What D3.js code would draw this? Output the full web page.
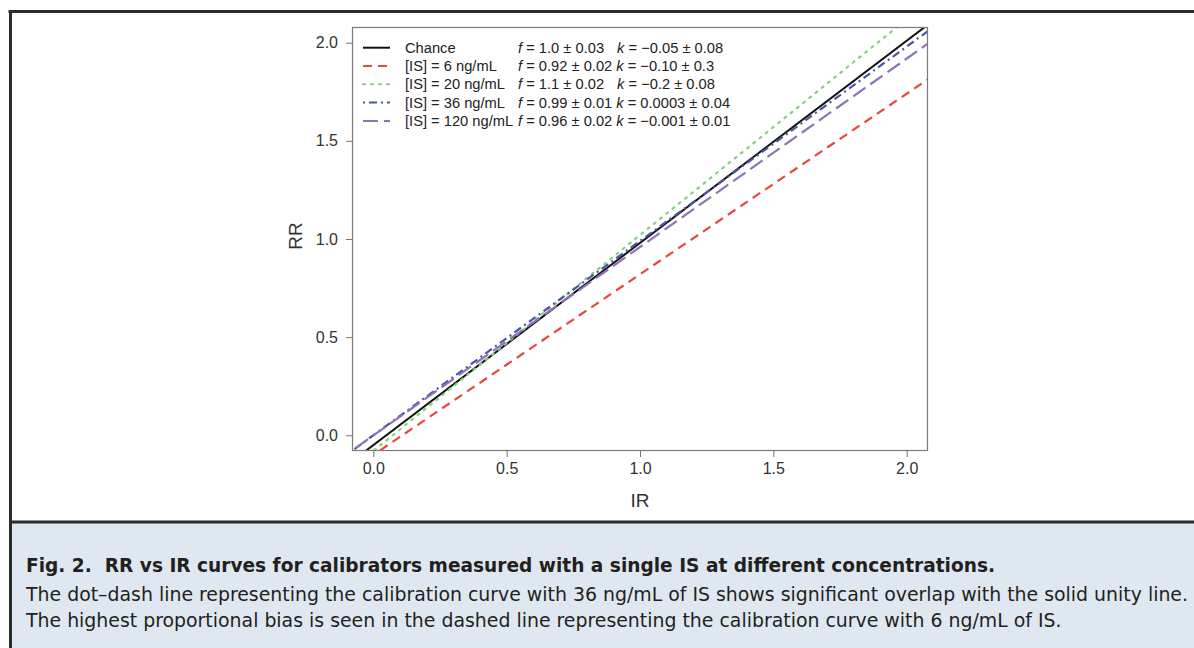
<!DOCTYPE html>
<html>
<head>
<meta charset="utf-8">
<script src="https://cdn.jsdelivr.net/npm/d3@7"></script>
<style>
  html, body { margin: 0; padding: 0; background: #fff; }
  svg { display: block; }
</style>
</head>
<body>
<svg id="chart" width="1194" height="648"></svg>
<script>
// ---- data ----
const seriesNames = ["Chance", "[IS] = 6 ng/mL", "[IS] = 20 ng/mL", "[IS] = 36 ng/mL", "[IS] = 120 ng/mL"];
const slopes = [1.03, 0.92, 1.10, 0.99, 0.96];
const intercepts = [-0.05, -0.10, -0.08, 0.00, -0.001];
const fLabels = ["1.0 ± 0.03", "0.92 ± 0.02", "1.1 ± 0.02", "0.99 ± 0.01", "0.96 ± 0.02"];
const kLabels = ["−0.05 ± 0.08", "−0.10 ± 0.3", "−0.2 ± 0.08", "0.0003 ± 0.04", "−0.001 ± 0.01"];
const seriesColors = ["#111111", "#e8473c", "#86cf7e", "#4b55a8", "#8b74b8"];
const seriesDash = ["", "9,6", "2,6", "2,4,8,4", "15,6"];
const xTicks = [0.0, 0.5, 1.0, 1.5, 2.0];
const yTicks = [0.0, 0.5, 1.0, 1.5, 2.0];
const xTitle = "IR";
const yTitle = "RR";
const captionTitle = "Fig. 2.  RR vs IR curves for calibrators measured with a single IS at different concentrations.";
const captionLines = [
  "The dot–dash line representing the calibration curve with 36 ng/mL of IS shows significant overlap with the solid unity line.",
  "The highest proportional bias is seen in the dashed line representing the calibration curve with 6 ng/mL of IS."
];

// ---- layout ----
const svg = d3.select("#chart");
const W = 1194, H = 648;
const plot = { left: 352, right: 928, top: 27, bottom: 451 };
const chartFont = "'Liberation Sans', Arimo, Helvetica, Arial, sans-serif";
const capFont = "'DejaVu Sans Condensed', 'DejaVu Sans', sans-serif";

// caption background and frame
svg.append("rect").attr("x", 10).attr("y", 522).attr("width", W - 10).attr("height", H - 522).attr("fill", "#dfe8f1");
svg.append("line").attr("x1", 8.5).attr("x2", W).attr("y1", 11.5).attr("y2", 11.5).attr("stroke", "#2b2b2b").attr("stroke-width", 3);
svg.append("line").attr("x1", 10.5).attr("x2", 10.5).attr("y1", 10).attr("y2", H).attr("stroke", "#2b2b2b").attr("stroke-width", 3);
svg.append("line").attr("x1", 10).attr("x2", W).attr("y1", 522).attr("y2", 522).attr("stroke", "#2b2b2b").attr("stroke-width", 3);

// scales
const x = d3.scaleLinear().domain([-0.08, 2.08]).range([plot.left, plot.right]);
const y = d3.scaleLinear().domain([-0.08, 2.08]).range([plot.bottom, plot.top]);

// clip
svg.append("defs").append("clipPath").attr("id", "plotclip")
  .append("rect").attr("x", plot.left).attr("y", plot.top)
  .attr("width", plot.right - plot.left).attr("height", plot.bottom - plot.top);

// regression lines
const lineGen = d3.line().x(d => x(d[0])).y(d => y(d[1]));
const gLines = svg.append("g").attr("clip-path", "url(#plotclip)");
const xd = x.domain();
seriesNames.forEach((name, i) => {
  const pts = [xd[0] - 0.5, xd[1] + 0.5].map(v => [v, slopes[i] * v + intercepts[i]]);
  gLines.append("path")
    .attr("d", lineGen(pts))
    .attr("fill", "none")
    .attr("stroke", seriesColors[i])
    .attr("stroke-width", i === 0 ? 2 : 2.2)
    .attr("stroke-dasharray", seriesDash[i] || null)
    .attr("stroke-linecap", i === 2 ? "round" : "butt");
});

// axes
const xAxis = d3.axisBottom(x).tickValues(xTicks).tickFormat(d3.format(".1f")).tickSize(6).tickPadding(6);
const yAxis = d3.axisLeft(y).tickValues(yTicks).tickFormat(d3.format(".1f")).tickSize(6).tickPadding(8);
const gx = svg.append("g").attr("transform", `translate(0,${plot.bottom})`).call(xAxis);
const gy = svg.append("g").attr("transform", `translate(${plot.left},0)`).call(yAxis);
[gx, gy].forEach(g => {
  g.select(".domain").remove();
  g.selectAll(".tick line").attr("stroke", "#777");
  g.selectAll(".tick text").attr("fill", "#333").style("font-family", chartFont).style("font-size", "16px");
});

// plot box
svg.append("rect").attr("x", plot.left + 0.5).attr("y", plot.top + 0.5)
  .attr("width", plot.right - plot.left - 1).attr("height", plot.bottom - plot.top - 1)
  .attr("fill", "none").attr("stroke", "#7a7a7a").attr("stroke-width", 1.2);

// axis titles
svg.append("text").attr("x", (plot.left + plot.right) / 2).attr("y", 507)
  .attr("text-anchor", "middle").attr("fill", "#333")
  .style("font-family", chartFont).style("font-size", "19px").text(xTitle);
svg.append("text").attr("transform", `translate(302,236) rotate(-90)`)
  .attr("text-anchor", "middle").attr("fill", "#333")
  .style("font-family", chartFont).style("font-size", "19px").text(yTitle);

// legend
const legRow0 = 47.7, legStep = 18.3;
const gLeg = svg.append("g").style("font-family", chartFont).style("font-size", "14.7px").attr("fill", "#222");
const fWidths = [];
seriesNames.forEach((name, i) => {
  const cy = legRow0 + i * legStep;
  gLeg.append("line").attr("x1", 363).attr("x2", 390).attr("y1", cy).attr("y2", cy)
    .attr("stroke", seriesColors[i]).attr("stroke-width", 2)
    .attr("stroke-dasharray", seriesDash[i] || null)
    .attr("stroke-linecap", i === 2 ? "round" : "butt");
  gLeg.append("text").attr("x", 405).attr("y", cy + 5).text(name);
  const ft = gLeg.append("text").attr("class", "ftext").attr("x", 518).attr("y", cy + 5);
  ft.append("tspan").style("font-style", "italic").text("f");
  ft.append("tspan").text(" = " + fLabels[i]);
  fWidths.push(ft.node().getComputedTextLength());
});
const maxFW = d3.max(fWidths);
seriesNames.forEach((name, i) => {
  const cy = legRow0 + i * legStep;
  const kx = 518 + fWidths[i] + (fWidths[i] < maxFW - 3 ? 13 : 4);
  const kt = gLeg.append("text").attr("x", kx).attr("y", cy + 5);
  kt.append("tspan").style("font-style", "italic").text("k");
  kt.append("tspan").text(" = " + kLabels[i]);
});

// caption: condensed by a common horizontal squeeze; first body line fills the width
const capX = 26, capRight = 1188;
const gCap = svg.append("g").style("font-family", capFont).attr("fill", "#231f20");
const tTitle = gCap.append("text").attr("x", capX).attr("y", 572)
  .style("font-size", "20px").style("font-weight", "bold")
  .style("white-space", "pre")
  .text(captionTitle);
const tLines = captionLines.map((t, i) => gCap.append("text").attr("x", capX).attr("y", 601 + i * 26)
  .style("font-size", "20px").text(t));
const squeeze = (capRight - capX) / tLines[0].node().getComputedTextLength();
tLines.forEach(t => {
  const w = t.node().getComputedTextLength();
  t.attr("textLength", w * squeeze).attr("lengthAdjust", "spacingAndGlyphs");
});
const titleW = tTitle.node().getComputedTextLength();
tTitle.attr("textLength", Math.min(titleW * squeeze, 995 - capX)).attr("lengthAdjust", "spacingAndGlyphs");
</script>
</body>
</html>
